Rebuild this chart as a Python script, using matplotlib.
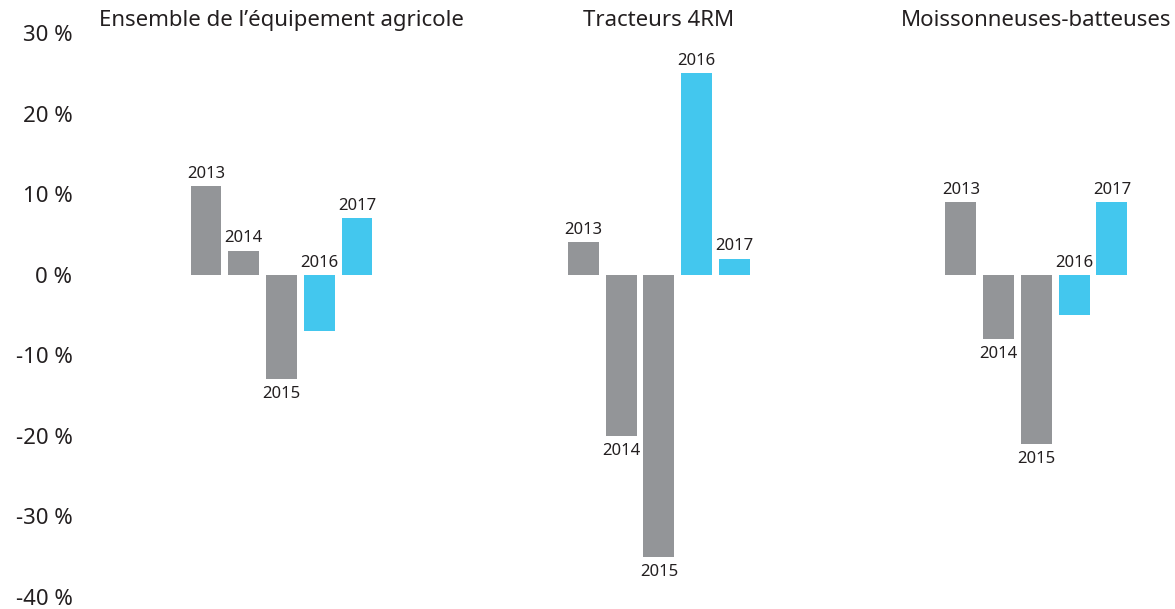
import matplotlib
matplotlib.use('Agg')
import matplotlib.pyplot as plt
import matplotlib.transforms as mtransforms

plt.rcParams['font.family'] = ['Noto Sans', 'DejaVu Sans']

groups = ['Ensemble de l\u2019équipement agricole', 'Tracteurs 4RM', 'Moissonneuses-batteuses']
years = ['2013', '2014', '2015', '2016', '2017']
values = [
    [11, 3, -13, -7, 7],
    [4, -20, -35, 25, 2],
    [9, -8, -21, -5, 9],
]
# where the year label goes: above (True) or below (False) the bar
label_above = [
    [True, True, False, True, True],
    [True, False, False, True, True],
    [True, False, False, True, True],
]
yticks = [30, 20, 10, 0, -10, -20, -30, -40]

gray = '#939598'
cyan = '#43c7ee'
bar_colors = [gray, gray, gray, cyan, cyan]

fig = plt.figure(figsize=(11.75, 6.09), dpi=100)
ax = fig.add_axes([85 / 1175, 0, 1 - 85 / 1175, 1])

step = 10
for g, vals in enumerate(values):
    xs = [g * step + i for i in range(len(vals))]
    bars = ax.bar(xs, vals, width=0.82, color=bar_colors, zorder=2)
    for b, yr, v, up in zip(bars, years, vals, label_above[g]):
        cx = b.get_x() + b.get_width() / 2
        if up:
            ax.annotate(yr, (cx, max(v, 0)), xytext=(0, 3), textcoords='offset points',
                        ha='center', va='bottom', fontsize=12, color='#231f20')
        else:
            ax.annotate(yr, (cx, v), xytext=(0, -5), textcoords='offset points',
                        ha='center', va='top', fontsize=12, color='#231f20')
    trans = mtransforms.blended_transform_factory(ax.transData, ax.transAxes)
    ax.text(g * step + 2, 0.966, groups[g], transform=trans, ha='center', va='center',
            fontsize=16, color='#231f20')

ax.set_xlim(-3.205, 25.67)
ax.set_ylim(-41.5, 34.1)
ax.set_yticks(yticks)
ax.set_yticklabels([f'{t} %' for t in yticks], fontsize=16, color='#231f20')
ax.tick_params(axis='y', length=0, pad=9)
ax.set_xticks([])
for s in ax.spines.values():
    s.set_visible(False)

fig.savefig('out.png', dpi=100)
